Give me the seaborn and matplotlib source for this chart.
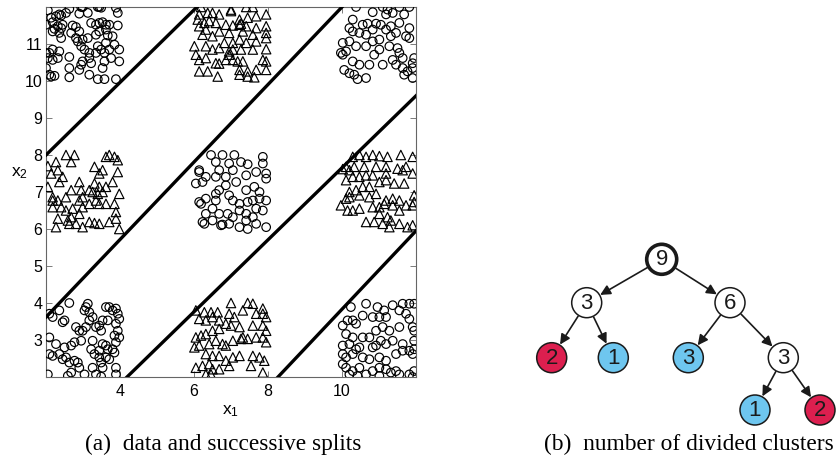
import numpy as np
import pandas as pd
import matplotlib
matplotlib.use("Agg")
import matplotlib.pyplot as plt
import seaborn as sns
from matplotlib.patches import Circle

# ---------------- data: nine clusters (x1, x2) ----------------
tl_circ_x = [2.05, 2.63, 2.95, 2.99, 3.40, 3.44, 3.49, 3.89, 2.36, 2.54, 2.90, 3.13, 3.94, 2.14, 2.27, 2.41,
             2.00, 2.18, 2.32, 2.45, 2.23, 2.41, 2.36, 2.18, 2.72, 2.81, 2.90, 2.68, 3.22, 3.35, 3.44, 3.53,
             3.62, 3.71, 3.94, 3.62, 3.44, 3.35, 3.67, 3.80, 3.13, 2.81, 2.99, 2.86, 2.41, 3.62, 3.40, 3.85,
             2.09, 2.00, 2.18, 2.05, 2.18, 2.32, 2.63, 2.36, 2.95, 3.04, 3.17, 3.35, 3.49, 3.58, 3.71, 3.98,
             2.99, 2.95, 3.17, 3.98, 3.58, 3.53, 3.76, 2.00, 2.09, 2.14, 2.23, 2.63, 2.63, 2.90, 3.17, 3.40,
             3.58, 3.89, 3.22]
tl_circ_y = [11.91, 11.95, 12.00, 12.00, 12.00, 12.00, 11.98, 11.98, 11.80, 11.84, 11.82, 11.84, 11.84, 11.71, 11.75, 11.77,
             11.52, 11.59, 11.48, 11.52, 11.41, 11.43, 11.30, 11.34, 11.50, 11.46, 11.34, 11.30, 11.57, 11.52, 11.57, 11.59,
             11.52, 11.52, 11.50, 11.39, 11.34, 11.25, 11.23, 11.21, 11.16, 11.16, 11.12, 11.07, 11.16, 11.03, 10.94, 10.98,
             10.76, 10.76, 10.85, 10.62, 10.57, 10.62, 10.65, 10.80, 10.94, 10.85, 10.76, 10.76, 10.85, 10.76, 10.85, 10.85,
             10.53, 10.44, 10.62, 10.53, 10.53, 10.35, 10.62, 10.35, 10.17, 10.12, 10.14, 10.35, 10.10, 10.30, 10.17, 10.05,
             10.05, 10.05, 10.48]

tm_tri_x = [6.19, 7.41, 7.59, 7.00, 6.14, 6.37, 6.50, 6.68, 7.00, 7.23, 7.27, 7.45, 7.68, 7.95, 6.10, 6.28,
            6.41, 6.59, 6.86, 7.05, 7.23, 7.41, 7.68, 7.95, 6.14, 6.32, 6.68, 6.95, 7.32, 7.59, 7.95, 7.95,
            6.23, 6.50, 6.82, 7.05, 7.23, 7.41, 7.68, 6.01, 6.32, 6.50, 6.68, 7.05, 7.27, 7.59, 7.95, 6.05,
            6.14, 6.32, 6.95, 6.86, 7.05, 7.18, 6.59, 6.68, 7.32, 7.86, 7.95, 6.14, 6.37, 6.64, 7.23, 7.45,
            7.68, 7.23, 7.45, 7.63, 7.95, 6.95]
tm_tri_y = [12.00, 12.00, 12.00, 11.93, 11.80, 11.84, 11.84, 11.80, 11.89, 11.66, 11.55, 11.71, 11.75, 11.80, 11.66, 11.57,
            11.62, 11.57, 11.52, 11.50, 11.52, 11.48, 11.43, 11.48, 11.48, 11.39, 11.34, 11.30, 11.34, 11.25, 11.30, 11.16,
            11.25, 11.21, 11.03, 11.03, 11.12, 11.03, 11.07, 10.94, 10.94, 10.85, 10.89, 10.85, 10.85, 10.85, 10.86, 10.71,
            10.57, 10.62, 10.71, 10.57, 10.57, 10.53, 10.48, 10.47, 10.53, 10.57, 10.53, 10.26, 10.26, 10.12, 10.30, 10.26,
            10.30, 10.17, 10.12, 10.10, 10.30, 10.80]

tr_circ_x = [10.38, 11.10, 11.23, 11.55, 11.82, 10.83, 11.19, 11.37, 11.68, 10.29, 10.56, 10.69, 10.92, 11.05, 11.32, 11.55,
             11.82, 10.20, 10.29, 10.47, 10.65, 10.83, 11.19, 11.46, 11.73, 10.02, 10.20, 10.38, 10.65, 10.83, 11.01, 11.32,
             11.01, 11.28, 11.50, 9.97, 10.11, 10.87, 11.55, 11.64, 11.37, 11.95, 10.29, 10.47, 10.74, 10.06, 10.20, 10.33,
             10.42, 10.65, 11.10, 11.46, 11.64, 11.77, 11.91, 11.68, 11.91, 11.91, 11.82, 10.02]
tr_circ_y = [12.00, 12.00, 11.93, 12.00, 12.00, 11.86, 11.80, 11.84, 11.80, 11.66, 11.52, 11.55, 11.55, 11.52, 11.48, 11.57,
             11.43, 11.43, 11.34, 11.30, 11.25, 11.39, 11.39, 11.30, 11.21, 11.03, 11.07, 10.94, 10.94, 11.07, 11.12, 11.21,
             10.85, 10.94, 10.89, 10.76, 10.80, 10.71, 10.76, 10.62, 10.57, 10.62, 10.53, 10.44, 10.44, 10.30, 10.21, 10.17,
             10.05, 10.08, 10.44, 10.44, 10.35, 10.26, 10.35, 10.17, 10.08, 10.48, 11.16, 10.71]

ml_tri_x = [2.05, 2.05, 2.14, 2.27, 2.32, 2.54, 2.68, 2.77, 2.45, 2.36, 2.18, 2.18, 2.32, 2.54, 2.68, 2.90,
            2.95, 2.99, 3.31, 3.44, 3.53, 3.62, 3.71, 3.85, 3.94, 3.94, 3.80, 3.62, 3.44, 3.31, 3.26, 3.40,
            3.17, 3.53, 3.98, 2.18, 2.41, 2.54, 2.72, 2.90, 2.99, 3.17, 3.35, 3.44, 3.62, 3.85, 3.89, 2.32,
            2.59, 2.63, 2.81, 2.99, 3.17, 3.31, 3.44, 3.71, 3.89, 2.27, 3.98, 2.68, 2.90]
ml_tri_y = [7.70, 7.14, 7.50, 7.81, 7.59, 8.00, 7.81, 8.00, 7.41, 7.27, 6.86, 6.77, 6.77, 6.86, 7.05, 7.27,
            7.05, 6.86, 7.68, 7.50, 7.59, 7.95, 8.00, 7.95, 7.86, 7.54, 7.27, 7.14, 7.14, 7.23, 7.00, 6.95,
            7.05, 7.00, 6.95, 6.59, 6.59, 6.50, 6.55, 6.77, 6.59, 6.68, 6.77, 6.68, 6.68, 6.68, 6.46, 6.28,
            6.23, 6.14, 6.14, 6.05, 6.19, 6.16, 6.14, 6.19, 6.28, 6.05, 6.00, 6.32, 6.41]

mm_circ_x = [6.46, 6.77, 7.09, 6.59, 6.95, 7.27, 7.45, 7.86, 7.86, 6.14, 6.14, 6.32, 6.68, 6.86, 7.05, 7.41,
             7.68, 7.95, 7.95, 6.05, 6.23, 6.59, 6.68, 6.86, 7.14, 7.41, 7.63, 7.77, 6.14, 6.19, 6.32, 6.59,
             6.59, 6.95, 7.05, 7.23, 7.45, 7.59, 7.77, 7.95, 6.32, 6.50, 6.68, 6.91, 7.05, 7.23, 7.41, 7.68,
             7.86, 6.23, 6.28, 6.50, 6.77, 6.95, 7.41, 7.59, 7.68, 7.23, 7.45, 7.95, 6.73]
mm_circ_y = [8.00, 8.00, 8.00, 7.81, 7.77, 7.81, 7.75, 7.95, 7.77, 7.59, 7.54, 7.41, 7.59, 7.41, 7.59, 7.45,
             7.54, 7.50, 7.36, 7.23, 7.27, 7.41, 7.05, 7.18, 7.27, 7.05, 7.14, 7.00, 6.73, 6.68, 6.82, 6.95,
             6.77, 6.91, 6.77, 6.68, 6.73, 6.77, 6.82, 6.77, 6.41, 6.55, 6.41, 6.41, 6.32, 6.50, 6.41, 6.55,
             6.50, 6.19, 6.14, 6.23, 6.12, 6.14, 6.23, 6.32, 6.14, 6.05, 6.00, 6.05, 6.10]

mr_tri_x = [10.02, 10.29, 10.47, 10.65, 10.83, 11.01, 11.23, 11.59, 11.91, 10.11, 10.20, 10.33, 10.60, 10.92, 11.19, 11.50,
            11.73, 10.11, 10.29, 10.47, 10.65, 10.83, 11.19, 11.64, 11.91, 10.20, 10.38, 10.56, 10.74, 11.01, 11.19, 11.41,
            11.68, 10.11, 10.20, 10.47, 10.74, 10.92, 11.19, 11.37, 11.55, 11.95, 9.97, 10.15, 10.29, 10.47, 10.83, 11.01,
            11.14, 11.37, 11.55, 11.73, 11.91, 11.95, 10.65, 10.87, 11.10, 11.23, 11.32, 11.55, 11.77, 11.91, 11.28, 11.01]
mr_tri_y = [7.62, 7.95, 8.00, 7.95, 8.00, 7.97, 7.95, 8.00, 7.95, 7.68, 7.59, 7.68, 7.68, 7.68, 7.68, 7.63,
            7.68, 7.32, 7.41, 7.41, 7.45, 7.45, 7.50, 7.59, 7.50, 7.00, 7.05, 7.14, 7.14, 7.27, 7.32, 7.23,
            7.23, 6.82, 6.86, 6.91, 6.86, 6.95, 6.77, 6.82, 6.77, 6.91, 6.64, 6.50, 6.50, 6.55, 6.59, 6.59,
            6.68, 6.64, 6.50, 6.64, 6.64, 6.73, 6.19, 6.19, 6.14, 6.32, 6.23, 6.14, 6.05, 6.10, 6.05, 6.41]

bl_circ_x = [2.09, 2.18, 2.36, 2.63, 2.50, 2.45, 2.09, 2.27, 2.50, 2.68, 2.09, 2.18, 2.36, 2.45, 2.54, 2.63,
             2.77, 2.86, 2.68, 2.59, 2.05, 2.90, 2.77, 2.95, 2.99, 3.04, 3.08, 3.13, 3.17, 2.81, 2.90, 3.08,
             3.17, 3.26, 3.35, 3.44, 3.49, 3.26, 3.22, 3.31, 3.44, 3.53, 3.62, 3.67, 3.44, 3.49, 3.53, 3.26,
             3.35, 3.49, 3.04, 3.62, 3.71, 3.80, 3.89, 3.94, 3.98, 3.89, 3.94, 3.98, 3.89, 3.80, 3.85, 3.62,
             3.71, 3.89, 3.89, 3.67, 3.53, 3.85]
bl_circ_y = [3.71, 3.62, 3.80, 4.00, 3.53, 3.48, 3.07, 2.89, 2.80, 2.85, 2.62, 2.57, 2.62, 2.48, 2.53, 2.39,
             2.44, 2.39, 2.12, 2.03, 2.07, 2.25, 2.94, 2.98, 3.25, 3.80, 3.89, 3.98, 3.75, 3.35, 3.25, 3.35,
             3.53, 3.62, 3.35, 3.39, 3.25, 2.98, 2.75, 2.62, 2.71, 2.89, 2.85, 2.75, 2.53, 2.39, 2.25, 2.25,
             2.07, 2.01, 2.07, 3.89, 3.89, 3.80, 3.85, 3.71, 3.57, 3.44, 3.25, 3.07, 2.94, 2.75, 2.66, 2.53,
             2.48, 2.25, 2.07, 3.53, 3.53, 3.12]

bm_tri_x = [6.05, 6.28, 6.46, 6.64, 7.00, 7.45, 7.59, 7.86, 7.86, 6.14, 6.32, 6.50, 6.68, 6.95, 7.09, 7.32,
            7.68, 7.95, 6.05, 6.19, 6.32, 6.50, 6.68, 6.86, 7.00, 7.23, 7.59, 7.86, 7.95, 6.01, 6.14, 6.41,
            6.59, 6.77, 6.86, 7.05, 7.32, 7.45, 7.68, 7.86, 7.95, 6.32, 6.50, 6.68, 6.86, 7.05, 7.23, 7.59,
            7.77, 7.90, 6.05, 6.23, 6.41, 6.50, 6.32, 6.46, 6.68, 6.95, 7.54, 7.86, 7.27]
bm_tri_y = [3.80, 3.75, 3.75, 3.75, 4.00, 4.00, 3.98, 3.85, 3.71, 3.57, 3.53, 3.62, 3.53, 3.71, 3.62, 3.80,
            3.71, 3.62, 3.07, 3.12, 3.16, 3.25, 3.30, 3.44, 3.39, 3.35, 3.39, 3.39, 3.25, 2.80, 2.85, 2.89,
            2.98, 2.89, 2.85, 2.98, 3.07, 3.03, 3.07, 3.07, 2.94, 2.62, 2.57, 2.57, 2.44, 2.53, 2.57, 2.57,
            2.53, 2.44, 2.25, 2.30, 2.35, 2.21, 2.07, 2.07, 2.21, 2.30, 2.30, 2.12, 3.03]

br_circ_x = [10.24, 10.65, 10.96, 11.14, 11.37, 11.64, 11.82, 11.95, 10.02, 10.15, 10.29, 10.38, 10.56, 10.83, 11.01, 11.19,
             11.55, 11.73, 11.82, 11.91, 11.95, 10.11, 10.29, 10.56, 10.74, 10.92, 11.10, 11.28, 11.55, 10.02, 10.20, 10.38,
             10.47, 10.83, 10.92, 11.05, 11.19, 11.37, 11.64, 11.95, 10.02, 10.11, 10.29, 10.56, 10.74, 11.01, 11.19, 11.46,
             11.64, 11.82, 11.95, 11.91, 10.02, 10.11, 10.29, 10.47, 10.65, 10.83, 11.01, 11.19, 11.32, 11.46, 11.55, 11.82,
             11.91, 11.95, 10.20, 10.42, 11.01]
br_circ_y = [3.89, 3.98, 3.89, 3.80, 3.94, 3.98, 3.98, 3.98, 3.39, 3.53, 3.53, 3.44, 3.66, 3.62, 3.62, 3.62,
             3.80, 3.71, 3.57, 3.35, 3.25, 3.16, 3.07, 3.07, 3.07, 3.25, 3.35, 3.25, 3.35, 2.85, 2.89, 2.75,
             2.80, 2.80, 2.85, 2.98, 2.89, 2.98, 2.89, 2.98, 2.62, 2.53, 2.62, 2.53, 2.48, 2.53, 2.44, 2.62,
             2.71, 2.71, 2.75, 2.62, 2.35, 2.25, 2.16, 2.25, 2.07, 2.16, 2.25, 2.21, 2.12, 2.16, 2.07, 2.07,
             2.00, 2.16, 2.07, 2.03, 2.03]

# successive splitting lines: (x start, y start, x end, y end)
split_x0 = [2.00, 2.00, 4.19, 8.27]
split_y0 = [8.00, 3.62, 2.00, 2.00]
split_x1 = [6.08, 10.00, 12.00, 12.00]
split_y1 = [12.00, 12.00, 9.60, 5.95]

x_ticks = [4, 6, 8, 10]
y_ticks = [3, 4, 5, 6, 7, 8, 9, 10, 11]

# tree: node labels, node kind, parent index
node_labels = ["9", "3", "6", "2", "1", "3", "3", "1", "2"]
node_kind = ["root", "inner", "inner", "red", "blue", "blue", "inner", "blue", "red"]
node_parent = [None, 0, 0, 1, 1, 2, 2, 6, 6]

# ---------------- build frame ----------------
groups = [
    (tl_circ_x, tl_circ_y, "circle"), (tm_tri_x, tm_tri_y, "triangle"), (tr_circ_x, tr_circ_y, "circle"),
    (ml_tri_x, ml_tri_y, "triangle"), (mm_circ_x, mm_circ_y, "circle"), (mr_tri_x, mr_tri_y, "triangle"),
    (bl_circ_x, bl_circ_y, "circle"), (bm_tri_x, bm_tri_y, "triangle"), (br_circ_x, br_circ_y, "circle"),
]
frames = [pd.DataFrame({"x1": gx, "x2": gy, "cls": c}) for gx, gy, c in groups]
df = pd.concat(frames, ignore_index=True)

W, H = 837, 465
fig = plt.figure(figsize=(W / 100, H / 100), dpi=100)
ax = fig.add_axes([46 / W, 1 - 377 / H, 370 / W, 370 / H])

sns.scatterplot(data=df[df.cls == "circle"], x="x1", y="x2", marker="o", s=38,
                fc="none", ec="black", linewidth=0.85, ax=ax, legend=False, zorder=3)
sns.scatterplot(data=df[df.cls == "triangle"], x="x1", y="x2", marker="^", s=46,
                fc="none", ec="black", linewidth=0.85, ax=ax, legend=False, zorder=3)

for a, b, c, d in zip(split_x0, split_y0, split_x1, split_y1):
    sns.lineplot(x=[a, c], y=[b, d], color="black", linewidth=2.4, ax=ax,
                 estimator=None, sort=False, zorder=4)

ax.set_xlim(2, 12)
ax.set_ylim(2, 12)
ax.set_xticks(x_ticks)
ax.set_yticks(y_ticks)
ax.tick_params(direction="in", length=4, width=0.6, color="#666666", top=True, right=True,
               labelsize=11.5, labelfontfamily="Liberation Sans")
ax.tick_params(axis="x", pad=5)
ax.tick_params(axis="y", pad=2.5)
for s in ax.spines.values():
    s.set_color("#666666")
    s.set_linewidth(0.8)
ax.set_xlabel(r"$\mathregular{x_1}$", fontsize=12.5, family="Liberation Sans", labelpad=3)
ax.set_ylabel(r"$\mathregular{x_2}$", fontsize=12.5, family="Liberation Sans", rotation=0)
ax.yaxis.set_label_coords(-0.072, 0.53)

# ---------------- tree panel ----------------
tax = fig.add_axes([0, 0, 1, 1])
tax.set_xlim(0, W)
tax.set_ylim(H, 0)
tax.axis("off")

node_pos = [(661.7, 259.3), (586.7, 302.7), (730.0, 302.7), (551.7, 357.7), (613.3, 357.7),
            (688.3, 357.7), (783.3, 357.7), (755.0, 410.0), (820.0, 410.0)]
fills = {"root": "white", "inner": "white", "red": "#DC1F4F", "blue": "#6EC6EF"}
R = 15

for i, (lab, kind, par) in enumerate(zip(node_labels, node_kind, node_parent)):
    cx, cy = node_pos[i]
    lw = 2.6 if kind == "root" else 1.1
    tax.add_patch(Circle((cx, cy), R, facecolor=fills[kind], edgecolor="#1a1a1a", linewidth=lw, zorder=3))
    tax.text(cx, cy + 0.5, lab, ha="center", va="center", fontsize=16, family="Liberation Sans",
             color="#1a1a1a", zorder=4)
    if par is not None:
        px, py = node_pos[par]
        tax.annotate("", xy=(cx, cy), xytext=(px, py),
                     arrowprops=dict(arrowstyle="-|>", color="#1a1a1a", lw=1.2,
                                     shrinkA=12 if node_kind[par] == "root" else 11.5,
                                     shrinkB=11.2, mutation_scale=15), zorder=2)

fig.text(223.5 / W, 1 - 444 / H, "(a)  data and successive splits", ha="center", va="center",
         fontsize=16.8, family="Liberation Serif")
fig.text(689 / W, 1 - 444 / H, "(b)  number of divided clusters", ha="center", va="center",
         fontsize=16.8, family="Liberation Serif")

fig.savefig("out.png", dpi=100)
